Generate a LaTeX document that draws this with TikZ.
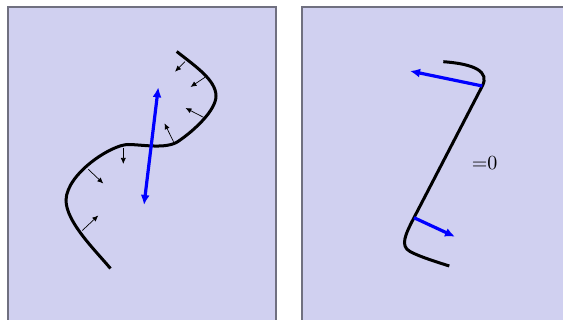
\documentclass[tikz,border=0pt]{standalone}
\usetikzlibrary{arrows.meta}
\definecolor{panelfill}{RGB}{208,208,240}
\definecolor{panelline}{RGB}{112,112,128}
\begin{document}
\begin{tikzpicture}[x=0.5pt,y=-0.5pt,
  panel/.style={fill=panelfill,draw=panelline,line width=0.6pt},
  curve/.style={black,line width=1.5pt},
  force/.style={black,line width=0.35pt,-{Latex[length=3pt,width=2.6pt]}},
  bluearrow/.style={blue,line width=1.6pt,-{Latex[length=5pt,width=4.5pt]}},
  bluedouble/.style={blue,line width=1.6pt,{Latex[length=5pt,width=4.5pt]}-{Latex[length=5pt,width=4.5pt]}}]
\useasboundingbox (0,0) rectangle (563,320);
\clip (0,0) rectangle (563,320);
% panels
\draw[panel] (8,7) rectangle (276,330);
\draw[panel] (302,7) rectangle (580,330);
% left curve
\coordinate (l0) at (176.7,51.5);
\coordinate (l1) at (216,96);
\coordinate (l2) at (178,141.5);
\coordinate (l3) at (128,144.5);
\coordinate (l4) at (66,200);
\coordinate (l5) at (110.5,268.5);
\draw[curve] (l0) .. controls (195,66) and (216,80) .. (l1)
  .. controls (216,110) and (195,130) .. (l2)
  .. controls (166,149.5) and (142,144.5) .. (l3)
  .. controls (112,144.5) and (67,173) .. (l4)
  .. controls (66,222) and (95,250) .. (l5);
% small force arrows
\coordinate (f1s) at (185,61.7);   \coordinate (f1e) at (175,71.7);
\coordinate (f2s) at (205,77.3);   \coordinate (f2e) at (190.5,87);
\coordinate (f3s) at (203.5,117.3);\coordinate (f3e) at (185.5,108);
\coordinate (f4s) at (173.5,141.7);\coordinate (f4e) at (164.5,123.3);
\coordinate (f5s) at (123.3,148.5);\coordinate (f5e) at (123.3,164);
\coordinate (f6s) at (88.3,169.3); \coordinate (f6e) at (103.3,183.5);
\coordinate (f7s) at (82.3,230.5); \coordinate (f7e) at (98.3,215.5);
\foreach \i in {1,...,7} {\draw[force] (f\i s) -- (f\i e);}
% left blue double arrow
\coordinate (lb1) at (144,205);
\coordinate (lb2) at (158.3,87.3);
\draw[bluedouble] (lb1) -- (lb2);
% right curve
\coordinate (r0) at (443.3,61.7);
\coordinate (r1) at (482.3,86);
\coordinate (r2) at (414,217.7);
\coordinate (r3) at (410,251.5);
\coordinate (r4) at (449.3,266);
\draw[curve] (r0) .. controls (475,64) and (489.7,71.8) .. (r1) -- (r2)
  .. controls (405,235) and (400,246) .. (r3)
  .. controls (420,257) and (440,263) .. (r4);
% right blue arrows
\coordinate (rb1) at (410,71);
\coordinate (rb2) at (455,236.7);
\draw[bluearrow] (r1) -- (rb1);
\draw[bluearrow] (r2) -- (rb2);
% label
\node (lab) at (484.7,163.5) {=0};
\end{tikzpicture}
\end{document}
